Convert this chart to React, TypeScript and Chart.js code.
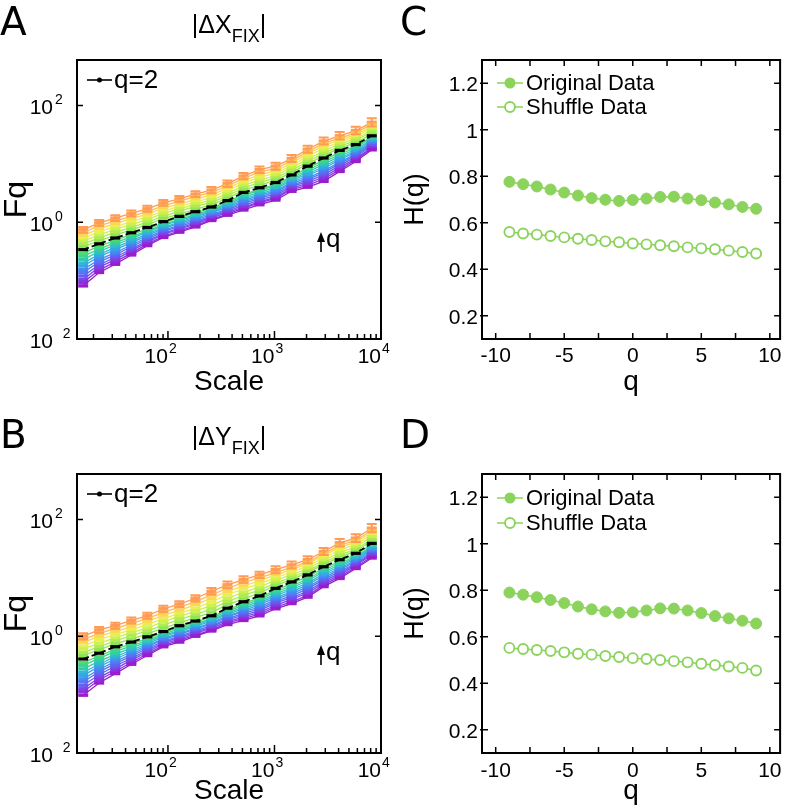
import React, { useEffect, useRef } from "react";
import { Chart, registerables } from "chart.js";

Chart.register(...registerables);

const FONT = "'Liberation Sans', Arial, Helvetica, sans-serif";
Chart.defaults.font.family = FONT;
Chart.defaults.color = "#000";

// ---------- data ----------
const scaleValues = [16, 22.6, 32, 45.3, 64, 90.5, 128, 181, 256, 362, 512, 724, 1024, 1448, 2048, 2896, 4096, 5793, 8192];
const qValues = [-9, -8, -7, -6, -5, -4, -3, -2, -1, 0, 1, 2, 3, 4, 5, 6, 7, 8, 9];
const refQ = 2;

// log10(Fq) for |ΔX_FIX|, one row per q (q = -9 ... 9)
const logFqX = [
  [-1.09, -0.86, -0.72, -0.56, -0.40, -0.26, -0.17, -0.08, 0.03, 0.12, 0.21, 0.30, 0.38, 0.53, 0.60, 0.70, 0.87, 1.04, 1.24],
  [-1.03, -0.82, -0.68, -0.53, -0.37, -0.24, -0.15, -0.06, 0.05, 0.14, 0.24, 0.33, 0.41, 0.56, 0.63, 0.74, 0.90, 1.07, 1.26],
  [-0.98, -0.77, -0.64, -0.49, -0.34, -0.21, -0.12, -0.03, 0.07, 0.17, 0.26, 0.35, 0.43, 0.58, 0.67, 0.77, 0.94, 1.09, 1.28],
  [-0.92, -0.73, -0.60, -0.46, -0.32, -0.19, -0.10, -0.01, 0.09, 0.19, 0.29, 0.38, 0.46, 0.61, 0.70, 0.81, 0.97, 1.12, 1.31],
  [-0.86, -0.68, -0.56, -0.42, -0.29, -0.16, -0.07, 0.01, 0.11, 0.21, 0.32, 0.41, 0.49, 0.63, 0.73, 0.85, 1.00, 1.15, 1.33],
  [-0.81, -0.64, -0.52, -0.39, -0.26, -0.14, -0.05, 0.04, 0.13, 0.23, 0.35, 0.43, 0.52, 0.66, 0.76, 0.88, 1.03, 1.17, 1.35],
  [-0.75, -0.59, -0.47, -0.35, -0.23, -0.11, -0.02, 0.06, 0.16, 0.26, 0.37, 0.46, 0.54, 0.68, 0.80, 0.92, 1.07, 1.20, 1.37],
  [-0.70, -0.55, -0.43, -0.32, -0.20, -0.09, 0.00, 0.09, 0.18, 0.28, 0.40, 0.48, 0.57, 0.71, 0.83, 0.95, 1.10, 1.22, 1.39],
  [-0.64, -0.50, -0.39, -0.28, -0.17, -0.06, 0.03, 0.11, 0.20, 0.30, 0.43, 0.51, 0.60, 0.73, 0.86, 0.99, 1.13, 1.25, 1.41],
  [-0.58, -0.46, -0.35, -0.25, -0.15, -0.04, 0.05, 0.13, 0.22, 0.32, 0.46, 0.54, 0.63, 0.76, 0.89, 1.03, 1.16, 1.28, 1.44],
  [-0.53, -0.41, -0.31, -0.21, -0.12, -0.01, 0.08, 0.16, 0.24, 0.35, 0.48, 0.56, 0.65, 0.78, 0.93, 1.06, 1.20, 1.30, 1.46],
  [-0.47, -0.37, -0.27, -0.18, -0.09, 0.01, 0.10, 0.18, 0.26, 0.37, 0.51, 0.59, 0.68, 0.81, 0.96, 1.10, 1.23, 1.33, 1.48],
  [-0.42, -0.32, -0.22, -0.13, -0.04, 0.06, 0.14, 0.22, 0.30, 0.41, 0.55, 0.63, 0.72, 0.85, 1.00, 1.14, 1.27, 1.36, 1.51],
  [-0.37, -0.27, -0.17, -0.09, 0.00, 0.10, 0.19, 0.27, 0.34, 0.45, 0.59, 0.68, 0.76, 0.89, 1.04, 1.18, 1.30, 1.40, 1.55],
  [-0.32, -0.22, -0.12, -0.04, 0.05, 0.15, 0.23, 0.31, 0.38, 0.49, 0.63, 0.72, 0.80, 0.93, 1.08, 1.22, 1.34, 1.43, 1.58],
  [-0.28, -0.16, -0.08, 0.01, 0.09, 0.19, 0.27, 0.35, 0.42, 0.54, 0.67, 0.77, 0.84, 0.97, 1.13, 1.27, 1.37, 1.47, 1.61],
  [-0.23, -0.11, -0.03, 0.06, 0.14, 0.24, 0.31, 0.39, 0.47, 0.58, 0.71, 0.81, 0.88, 1.01, 1.17, 1.31, 1.41, 1.50, 1.64],
  [-0.18, -0.06, 0.02, 0.10, 0.18, 0.28, 0.36, 0.44, 0.51, 0.62, 0.75, 0.86, 0.92, 1.05, 1.21, 1.35, 1.44, 1.53, 1.68],
  [-0.13, -0.01, 0.07, 0.15, 0.23, 0.33, 0.40, 0.48, 0.55, 0.66, 0.79, 0.90, 0.96, 1.09, 1.25, 1.39, 1.48, 1.57, 1.71],
];

// log10(Fq) for |ΔY_FIX|, one row per q (q = -9 ... 9)
const logFqY = [
  [-1.01, -0.80, -0.64, -0.48, -0.33, -0.18, -0.10, 0.00, 0.09, 0.20, 0.27, 0.35, 0.47, 0.56, 0.67, 0.85, 0.99, 1.16, 1.34],
  [-0.95, -0.75, -0.60, -0.45, -0.30, -0.16, -0.07, 0.02, 0.11, 0.23, 0.30, 0.38, 0.50, 0.59, 0.70, 0.88, 1.02, 1.18, 1.36],
  [-0.90, -0.71, -0.56, -0.41, -0.27, -0.13, -0.05, 0.05, 0.14, 0.25, 0.33, 0.41, 0.53, 0.63, 0.74, 0.91, 1.05, 1.21, 1.39],
  [-0.84, -0.66, -0.51, -0.38, -0.24, -0.11, -0.02, 0.07, 0.16, 0.28, 0.36, 0.44, 0.57, 0.66, 0.77, 0.94, 1.08, 1.23, 1.41],
  [-0.78, -0.61, -0.47, -0.34, -0.21, -0.09, 0.00, 0.09, 0.18, 0.30, 0.39, 0.47, 0.60, 0.69, 0.81, 0.97, 1.11, 1.25, 1.43],
  [-0.73, -0.57, -0.43, -0.31, -0.18, -0.06, 0.03, 0.12, 0.21, 0.33, 0.42, 0.50, 0.63, 0.73, 0.84, 1.00, 1.14, 1.28, 1.45],
  [-0.67, -0.52, -0.39, -0.27, -0.16, -0.04, 0.05, 0.14, 0.23, 0.35, 0.44, 0.54, 0.66, 0.76, 0.88, 1.04, 1.16, 1.30, 1.48],
  [-0.62, -0.48, -0.35, -0.24, -0.13, -0.01, 0.08, 0.17, 0.26, 0.38, 0.47, 0.57, 0.69, 0.80, 0.91, 1.07, 1.19, 1.33, 1.50],
  [-0.56, -0.43, -0.31, -0.20, -0.10, 0.01, 0.10, 0.19, 0.28, 0.40, 0.50, 0.60, 0.72, 0.83, 0.95, 1.10, 1.22, 1.35, 1.52],
  [-0.50, -0.38, -0.26, -0.17, -0.07, 0.03, 0.13, 0.21, 0.30, 0.43, 0.53, 0.63, 0.76, 0.86, 0.98, 1.13, 1.25, 1.37, 1.54],
  [-0.45, -0.34, -0.22, -0.13, -0.04, 0.06, 0.15, 0.24, 0.33, 0.45, 0.56, 0.66, 0.79, 0.90, 1.02, 1.16, 1.28, 1.40, 1.57],
  [-0.39, -0.29, -0.18, -0.10, -0.01, 0.08, 0.18, 0.26, 0.35, 0.48, 0.59, 0.69, 0.82, 0.93, 1.05, 1.19, 1.31, 1.42, 1.59],
  [-0.33, -0.23, -0.13, -0.05, 0.04, 0.14, 0.23, 0.32, 0.41, 0.54, 0.64, 0.74, 0.87, 0.97, 1.09, 1.23, 1.35, 1.46, 1.63],
  [-0.28, -0.18, -0.08, 0.01, 0.09, 0.19, 0.29, 0.37, 0.47, 0.59, 0.70, 0.79, 0.91, 1.01, 1.12, 1.26, 1.39, 1.49, 1.66],
  [-0.22, -0.12, -0.03, 0.06, 0.14, 0.25, 0.34, 0.43, 0.53, 0.65, 0.75, 0.84, 0.96, 1.05, 1.16, 1.30, 1.43, 1.53, 1.70],
  [-0.17, -0.06, 0.03, 0.11, 0.20, 0.30, 0.39, 0.48, 0.59, 0.71, 0.81, 0.90, 1.00, 1.10, 1.20, 1.34, 1.48, 1.57, 1.74],
  [-0.11, 0.00, 0.08, 0.16, 0.25, 0.36, 0.44, 0.54, 0.65, 0.77, 0.86, 0.95, 1.05, 1.14, 1.24, 1.38, 1.52, 1.61, 1.78],
  [-0.06, 0.05, 0.13, 0.22, 0.30, 0.41, 0.50, 0.59, 0.71, 0.82, 0.92, 1.00, 1.09, 1.18, 1.27, 1.41, 1.56, 1.64, 1.81],
  [0.00, 0.11, 0.18, 0.27, 0.35, 0.47, 0.55, 0.65, 0.77, 0.88, 0.97, 1.05, 1.14, 1.22, 1.31, 1.45, 1.60, 1.68, 1.85],
];

// error bar half-heights (decades) on the q = 9 curve
const errTopX = [0.05, 0.05, 0.05, 0.05, 0.05, 0.05, 0.05, 0.05, 0.055, 0.055, 0.055, 0.055, 0.06, 0.06, 0.06, 0.06, 0.065, 0.065, 0.07];
const errTopY = [0.05, 0.05, 0.05, 0.05, 0.05, 0.05, 0.05, 0.05, 0.055, 0.055, 0.055, 0.055, 0.06, 0.06, 0.06, 0.06, 0.065, 0.065, 0.07];

// generalized Hurst exponents H(q)
const hOrigX = [0.776, 0.766, 0.756, 0.743, 0.730, 0.717, 0.706, 0.699, 0.694, 0.698, 0.704, 0.711, 0.712, 0.704, 0.697, 0.687, 0.679, 0.668, 0.660];
const hShufX = [0.560, 0.554, 0.549, 0.543, 0.537, 0.531, 0.526, 0.520, 0.516, 0.511, 0.507, 0.503, 0.499, 0.494, 0.490, 0.486, 0.480, 0.474, 0.468];
const hOrigY = [0.790, 0.781, 0.770, 0.758, 0.745, 0.730, 0.718, 0.709, 0.703, 0.705, 0.713, 0.722, 0.721, 0.713, 0.702, 0.689, 0.679, 0.669, 0.657];
const hShufY = [0.552, 0.547, 0.543, 0.539, 0.533, 0.527, 0.523, 0.517, 0.513, 0.508, 0.504, 0.500, 0.495, 0.490, 0.484, 0.478, 0.472, 0.466, 0.455];

// tick values / labels
const fqYPowers = [-2, 0, 2];
const fqYExpLabels = ["  2", "0", "2"];
const fqXPowers = [2, 3, 4];
const fqXExpLabels = ["2", "3", "4"];
const fqXMinor = [20, 30, 40, 50, 60, 70, 80, 90, 200, 300, 400, 500, 600, 700, 800, 900, 2000, 3000, 4000, 5000, 6000, 7000, 8000, 9000];
const hTicks = [0.2, 0.4, 0.6, 0.8, 1, 1.2];
const hTickLabels = ["0.2", "0.4", "0.6", "0.8", "1", "1.2"];
const qTicks = [-10, -5, 0, 5, 10];
const qTickLabels = ["-10", "-5", "0", "5", "10"];
const qMinor = [-7.5, -2.5, 2.5, 7.5];

const qColors = [
  "#9a1ccc", "#8a32de", "#7747ea", "#645ef2", "#5276f4", "#438df0", "#37a4e4", "#30bad0", "#31cab0", "#3cd58a",
  "#52dc66", "#000000", "#8fe655", "#aeec50", "#ccf04f", "#e9ee52", "#fdd655", "#ffb957", "#ff9b55",
];
const GREEN = "#8bd35d";

// ---------- plugins ----------
const frameTicksPlugin = {
  id: "frameTicks",
  afterDraw(chart: any, _a: any, o: any) {
    const { ctx, chartArea: a } = chart;
    const xs = chart.scales.x;
    const ys = chart.scales.y;
    ctx.save();
    ctx.strokeStyle = "#000";
    ctx.lineWidth = 1.5;
    ctx.beginPath();
    const xt = (v: number, len: number) => {
      const px = xs.getPixelForValue(v);
      ctx.moveTo(px, a.bottom);
      ctx.lineTo(px, a.bottom - len);
      if (o.topTicks) {
        ctx.moveTo(px, a.top);
        ctx.lineTo(px, a.top + len);
      }
    };
    (o.xMajor || []).forEach((v: number) => xt(v, o.xMajorLen));
    (o.xMinor || []).forEach((v: number) => xt(v, o.xMinorLen));
    (o.yMajor || []).forEach((v: number) => {
      const py = ys.getPixelForValue(v);
      ctx.moveTo(a.left - (o.yOut || 0), py);
      ctx.lineTo(a.left + o.yLen, py);
      ctx.moveTo(a.right, py);
      ctx.lineTo(a.right - o.yLen, py);
    });
    ctx.stroke();
    ctx.lineWidth = 2;
    ctx.strokeRect(a.left, a.top, a.right - a.left, a.bottom - a.top);
    ctx.restore();
  },
};

// "10" with a raised exponent, placed through the log scales
const powerLabelsPlugin = {
  id: "powerLabels",
  afterDraw(chart: any, _a: any, o: any) {
    const { ctx, chartArea: a } = chart;
    const xs = chart.scales.x;
    const ys = chart.scales.y;
    ctx.save();
    ctx.fillStyle = "#000";
    ctx.textBaseline = "alphabetic";
    const base = `${o.baseSize}px ${FONT}`;
    const sup = `${o.supSize}px ${FONT}`;
    fqXPowers.forEach((p, i) => {
      const px = xs.getPixelForValue(Math.pow(10, p));
      ctx.font = base;
      ctx.textAlign = "right";
      ctx.fillText("10", px, a.bottom + o.xBase);
      ctx.font = sup;
      ctx.textAlign = "left";
      ctx.fillText(fqXExpLabels[i], px + 1, a.bottom + o.xBase - o.raise);
    });
    fqYPowers.forEach((p, i) => {
      const py = ys.getPixelForValue(Math.pow(10, p));
      ctx.font = base;
      ctx.textAlign = "right";
      ctx.fillText("10", a.left - o.yGap, py + o.yBase);
      ctx.font = sup;
      ctx.textAlign = "left";
      ctx.fillText(fqYExpLabels[i], a.left - o.yGap + 2, py + o.yBase - o.raise);
    });
    ctx.restore();
  },
};

// plain numeric tick labels, placed through the linear scales
const numLabelsPlugin = {
  id: "numLabels",
  afterDraw(chart: any, _a: any, o: any) {
    const { ctx, chartArea: a } = chart;
    const xs = chart.scales.x;
    const ys = chart.scales.y;
    ctx.save();
    ctx.fillStyle = "#000";
    ctx.font = `${o.size}px ${FONT}`;
    ctx.textBaseline = "alphabetic";
    ctx.textAlign = "center";
    qTicks.forEach((v, i) => {
      ctx.fillText(qTickLabels[i], xs.getPixelForValue(v), a.bottom + o.xBase);
    });
    ctx.textAlign = "right";
    hTicks.forEach((v, i) => {
      ctx.fillText(hTickLabels[i], a.left - o.yGap, ys.getPixelForValue(v) + o.yBase);
    });
    ctx.restore();
  },
};

const errorBarsPlugin = {
  id: "errorBars",
  afterDatasetsDraw(chart: any, _a: any, o: any) {
    if (!o || !o.errors) return;
    const { ctx, chartArea: a } = chart;
    const ys = chart.scales.y;
    const meta = chart.getDatasetMeta(o.index);
    ctx.save();
    ctx.beginPath();
    ctx.rect(a.left, a.top, a.right - a.left, a.bottom - a.top);
    ctx.clip();
    ctx.strokeStyle = o.color;
    ctx.lineWidth = 2;
    ctx.beginPath();
    meta.data.forEach((pt: any, j: number) => {
      const lv = o.logs[j];
      const e = o.errors[j];
      const y1 = ys.getPixelForValue(Math.pow(10, lv + e));
      const y2 = ys.getPixelForValue(Math.pow(10, lv - e));
      ctx.moveTo(pt.x, y1);
      ctx.lineTo(pt.x, y2);
      ctx.moveTo(pt.x - o.cap, y1);
      ctx.lineTo(pt.x + o.cap, y1);
      ctx.moveTo(pt.x - o.cap, y2);
      ctx.lineTo(pt.x + o.cap, y2);
    });
    ctx.stroke();
    ctx.restore();
  },
};

const insideLegendPlugin = {
  id: "insideLegend",
  afterDraw(chart: any, _a: any, o: any) {
    const { ctx, chartArea: a } = chart;
    ctx.save();
    o.items.forEach((it: any, k: number) => {
      const y = a.top + o.y0 + k * o.dy;
      const x0 = a.left + o.x0;
      ctx.strokeStyle = it.color;
      ctx.lineWidth = it.lineWidth;
      ctx.beginPath();
      ctx.moveTo(x0, y);
      ctx.lineTo(x0 + o.len, y);
      ctx.stroke();
      ctx.beginPath();
      ctx.arc(x0 + o.len / 2, y, it.r, 0, Math.PI * 2);
      ctx.fillStyle = it.fill;
      ctx.fill();
      if (it.stroke) {
        ctx.lineWidth = it.strokeWidth;
        ctx.strokeStyle = it.stroke;
        ctx.stroke();
      }
      ctx.fillStyle = "#000";
      ctx.font = `${o.size}px ${FONT}`;
      ctx.textBaseline = "middle";
      ctx.textAlign = "left";
      ctx.fillText(it.text, x0 + o.len + o.gap, y + 1);
    });
    ctx.restore();
  },
};

// ---------- configs ----------
function fqConfig(logRows: number[][], errs: number[], padTop: number, xAxisH: number) {
  const datasets = logRows.map((row, i) => {
    const q = qValues[i];
    const c = qColors[i];
    const isRef = q === refQ;
    return {
      label: `q=${q}`,
      data: row.map((lv, j) => ({ x: scaleValues[j], y: Math.pow(10, lv) })),
      borderColor: c,
      backgroundColor: c,
      borderWidth: isRef ? 1.8 : 1.3,
      borderDash: isRef ? [6, 3] : [],
      pointStyle: "line",
      pointRadius: 5,
      pointBorderWidth: isRef ? 3.2 : 3.4,
      pointBorderColor: c,
      pointHoverRadius: 0,
      order: isRef ? 0 : 1,
    };
  });
  const top = logRows.length - 1;
  return {
    type: "line",
    data: { datasets },
    options: {
      responsive: false,
      animation: false,
      events: [],
      layout: { padding: { top: padTop, right: 19, left: 0, bottom: 0 } },
      plugins: {
        legend: { display: false },
        tooltip: { enabled: false },
        errorBars: { index: top, logs: logRows[top], errors: errs, color: qColors[top], cap: 5 },
        frameTicks: { xMajor: fqXPowers.map((p) => Math.pow(10, p)), xMinor: fqXMinor, xMajorLen: 8, xMinorLen: 5, topTicks: false, yMajor: fqYPowers.map((p) => Math.pow(10, p)), yLen: 6 },
        powerLabels: { baseSize: 21, supSize: 14, xBase: 24, raise: 10, yGap: 24, yBase: 9 },
        insideLegend: {
          x0: 10, len: 25, y0: 20, dy: 0, size: 26, gap: 2,
          items: [{ text: "q=2", color: "#000", lineWidth: 1.6, r: 2.5, fill: "#000" }],
        },
      },
      scales: {
        x: {
          type: "logarithmic",
          min: 14,
          max: 10000,
          ticks: { display: false },
          grid: { display: false, drawTicks: false },
          border: { display: false },
          title: { display: true, text: "Scale", font: { size: 28, lineHeight: 1 }, padding: { top: 0, bottom: 4 } },
          afterFit: (s: any) => { s.height = xAxisH; },
        },
        y: {
          type: "logarithmic",
          min: 0.01,
          max: 600,
          ticks: { display: false },
          grid: { display: false, drawTicks: false },
          border: { display: false },
          title: { display: true, text: "Fq", font: { size: 32, lineHeight: 1 }, padding: { top: 1, bottom: 0 } },
          afterFit: (s: any) => { s.width = 77; },
        },
      },
    },
    plugins: [errorBarsPlugin, frameTicksPlugin, powerLabelsPlugin, insideLegendPlugin],
  };
}

function hConfig(orig: number[], shuf: number[], padTop: number, xAxisH: number, legendY0: number, legendDy: number, xLabelBase: number) {
  return {
    type: "line",
    data: {
      datasets: [
        {
          label: "Original Data",
          data: qValues.map((q, i) => ({ x: q, y: orig[i] })),
          borderColor: GREEN,
          backgroundColor: GREEN,
          borderWidth: 1.5,
          pointRadius: 5.5,
          pointBackgroundColor: GREEN,
          pointBorderColor: GREEN,
          pointBorderWidth: 1,
          pointHoverRadius: 0,
        },
        {
          label: "Shuffle Data",
          data: qValues.map((q, i) => ({ x: q, y: shuf[i] })),
          borderColor: GREEN,
          backgroundColor: "#fff",
          borderWidth: 1.5,
          pointRadius: 5,
          pointBackgroundColor: "#fff",
          pointBorderColor: GREEN,
          pointBorderWidth: 1.9,
          pointHoverRadius: 0,
        },
      ],
    },
    options: {
      responsive: false,
      animation: false,
      events: [],
      layout: { padding: { top: padTop, right: 6, left: 0, bottom: 0 } },
      plugins: {
        legend: { display: false },
        tooltip: { enabled: false },
        frameTicks: { xMajor: qTicks, xMinor: qMinor, xMajorLen: 6, xMinorLen: 6, topTicks: true, yMajor: hTicks, yLen: 6, yOut: 2 },
        numLabels: { size: 21, xBase: xLabelBase, yGap: 4, yBase: 8 },
        insideLegend: {
          x0: 15, len: 26, y0: legendY0, dy: legendDy, size: 22, gap: 3,
          items: [
            { text: "Original Data", color: GREEN, lineWidth: 1.5, r: 5.5, fill: GREEN },
            { text: "Shuffle Data", color: GREEN, lineWidth: 1.5, r: 5, fill: "#fff", stroke: GREEN, strokeWidth: 1.9 },
          ],
        },
      },
      scales: {
        x: {
          type: "linear",
          min: -11,
          max: 10.75,
          ticks: { display: false },
          grid: { display: false, drawTicks: false },
          border: { display: false },
          title: { display: true, text: "q", font: { size: 28, lineHeight: 1 }, padding: { top: 0, bottom: 4 } },
          afterFit: (s: any) => { s.height = xAxisH; },
        },
        y: {
          type: "linear",
          min: 0.1,
          max: 1.3,
          ticks: { display: false },
          grid: { display: false, drawTicks: false },
          border: { display: false },
          title: { display: true, text: "H(q)", font: { size: 27, lineHeight: 1 }, padding: { top: 2, bottom: 0 } },
          afterFit: (s: any) => { s.width = 82; },
        },
      },
    },
    plugins: [frameTicksPlugin, numLabelsPlugin, insideLegendPlugin],
  };
}

// ---------- components ----------
function ChartCanvas({ left, top, width, height, make }: any) {
  const ref = useRef<HTMLCanvasElement>(null);
  useEffect(() => {
    const chart = new Chart(ref.current as HTMLCanvasElement, make() as any);
    return () => chart.destroy();
  }, []);
  return (
    <canvas
      ref={ref}
      width={width}
      height={height}
      style={{ position: "absolute", left, top, width, height }}
    />
  );
}

function PanelLetter({ text, left, top }: any) {
  return (
    <div style={{ position: "absolute", left, top, fontFamily: "'DejaVu Sans', sans-serif", fontSize: 39, lineHeight: "39px" }}>
      {text}
    </div>
  );
}

function PanelTitle({ main, sub, top }: any) {
  return (
    <div style={{ position: "absolute", left: 0, width: 458, top, textAlign: "center", fontFamily: FONT, fontSize: 25, lineHeight: "25px", whiteSpace: "nowrap" }}>
      {"|" + main}
      <span style={{ fontSize: 18, position: "relative", top: 9 }}>{sub}</span>
      {"|"}
    </div>
  );
}

function QArrow({ left, top }: any) {
  return (
    <svg style={{ position: "absolute", left, top }} width={44} height={32}>
      <line x1={7} y1={8} x2={7} y2={21} stroke="#000" strokeWidth={1.6} />
      <polygon points="7,1 3,11 11,11" fill="#000" />
      <text x={12} y={16} fontSize={26} fontFamily={FONT}>q</text>
    </svg>
  );
}

export default function App() {
  return (
    <div style={{ position: "absolute", left: 0, top: 0, width: 787, height: 809, background: "#fff", overflow: "hidden" }}>
      <ChartCanvas left={0} top={0} width={400} height={400} make={() => fqConfig(logFqX, errTopX, 60, 61)} />
      <ChartCanvas left={400} top={0} width={387} height={400} make={() => hConfig(hOrigX, hShufX, 60, 61, 23, 24, 23)} />
      <ChartCanvas left={0} top={400} width={400} height={409} make={() => fqConfig(logFqY, errTopY, 74, 56)} />
      <ChartCanvas left={400} top={400} width={387} height={409} make={() => hConfig(hOrigY, hShufY, 74, 56, 24, 25, 24)} />
      <PanelLetter text="A" left={0} top={2} />
      <PanelLetter text="C" left={400} top={2} />
      <PanelLetter text="B" left={0} top={415} />
      <PanelLetter text="D" left={400} top={415} />
      <PanelTitle main="ΔX" sub="FIX" top={12} />
      <PanelTitle main="ΔY" sub="FIX" top={424} />
      <QArrow left={314} top={231} />
      <QArrow left={314} top={644} />
    </div>
  );
}
